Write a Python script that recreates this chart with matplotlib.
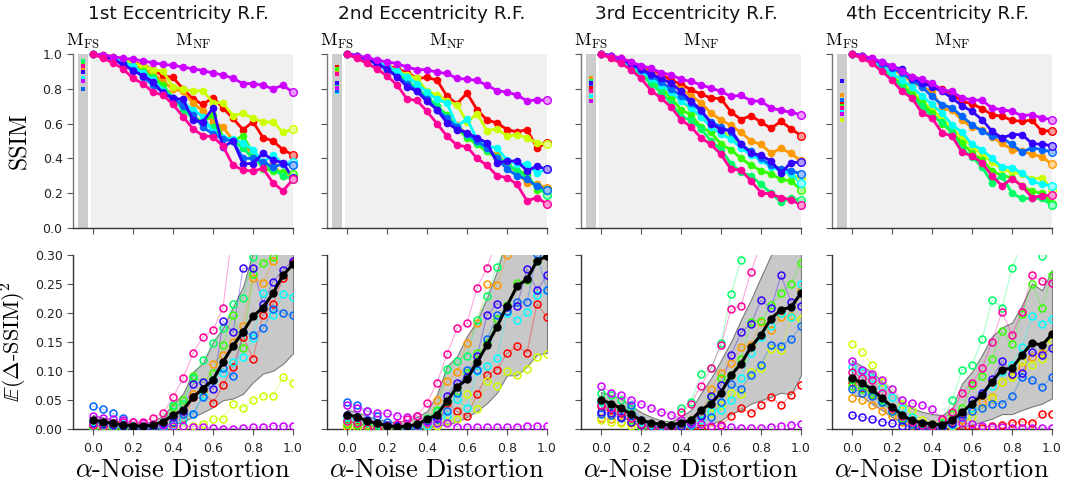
import matplotlib
matplotlib.use("Agg")
import matplotlib.pyplot as plt
from matplotlib.colors import to_rgb

plt.rcParams['mathtext.fontset'] = 'cm'
plt.rcParams['font.family'] = 'DejaVu Sans'

# ---------------- data ----------------
noise = [0.0, 0.05, 0.1, 0.15, 0.2, 0.25, 0.3, 0.35, 0.4, 0.45, 0.5,
         0.55, 0.6, 0.65, 0.7, 0.75, 0.8, 0.85, 0.9, 0.95, 1.0]
titles = ["1st Eccentricity R.F.", "2nd Eccentricity R.F.",
          "3rd Eccentricity R.F.", "4th Eccentricity R.F."]
series_names = ["red", "orange", "yellow", "lime", "spring", "cyan",
                "blue", "violet", "purple", "pink"]
series_colors = ['#ff0000', '#ff9900', '#ccff00', '#33ff00', '#00ff66',
                 '#00ffff', '#0066ff', '#3300ff', '#cc00ff', '#ff0099']
top_yticks = [0.0, 0.2, 0.4, 0.6, 0.8, 1.0]
bot_yticks = [0.0, 0.05, 0.1, 0.15, 0.2, 0.25, 0.3]
xticks = [0.0, 0.2, 0.4, 0.6, 0.8, 1.0]

# M_FS (full-scale model) SSIM per series, per panel
fs1 = [0.915, 0.91, 0.855, 0.955, 0.96, 0.86, 0.80, 0.895, 0.845, 0.93]
fs2 = [0.924, 0.90, 0.82, 0.913, 0.82, 0.78, 0.785, 0.836, 0.804, 0.884]
fs3 = [0.802, 0.861, 0.75, 0.847, 0.845, 0.756, 0.83, 0.833, 0.731, 0.789]
fs4 = [0.713, 0.767, 0.619, 0.70, 0.68, 0.673, 0.733, 0.846, 0.656, 0.687]

# ---- SSIM (top row), panel 1 ----
s1_red = [1.0, 0.995, 0.985, 0.97, 0.955, 0.935, 0.91, 0.875, 0.865, 0.80, 0.74, 0.71, 0.75, 0.69, 0.63, 0.565, 0.61, 0.52, 0.50, 0.45, 0.42]
s1_orange = [1.0, 0.99, 0.975, 0.96, 0.94, 0.91, 0.89, 0.84, 0.80, 0.785, 0.72, 0.67, 0.61, 0.58, 0.505, 0.49, 0.42, 0.37, 0.36, 0.30, 0.29]
s1_yellow = [1.0, 0.995, 0.98, 0.965, 0.95, 0.93, 0.91, 0.90, 0.81, 0.80, 0.785, 0.79, 0.72, 0.72, 0.645, 0.66, 0.63, 0.61, 0.61, 0.55, 0.57]
s1_lime = [1.0, 0.99, 0.975, 0.955, 0.93, 0.90, 0.87, 0.82, 0.75, 0.70, 0.64, 0.61, 0.65, 0.52, 0.50, 0.53, 0.43, 0.34, 0.33, 0.32, 0.31]
s1_spring = [1.0, 0.99, 0.97, 0.95, 0.92, 0.89, 0.86, 0.80, 0.74, 0.68, 0.63, 0.60, 0.58, 0.52, 0.50, 0.46, 0.40, 0.36, 0.34, 0.30, 0.28]
s1_cyan = [1.0, 0.99, 0.975, 0.955, 0.93, 0.89, 0.85, 0.79, 0.75, 0.72, 0.68, 0.64, 0.55, 0.52, 0.51, 0.49, 0.45, 0.38, 0.42, 0.37, 0.38]
s1_blue = [1.0, 0.99, 0.97, 0.94, 0.91, 0.87, 0.82, 0.78, 0.75, 0.70, 0.65, 0.58, 0.54, 0.51, 0.50, 0.40, 0.40, 0.38, 0.35, 0.37, 0.36]
s1_violet = [1.0, 0.99, 0.97, 0.94, 0.905, 0.875, 0.84, 0.775, 0.745, 0.74, 0.62, 0.61, 0.69, 0.465, 0.50, 0.37, 0.37, 0.43, 0.39, 0.375, 0.285]
s1_purple = [1.0, 0.995, 0.985, 0.975, 0.97, 0.96, 0.95, 0.94, 0.935, 0.925, 0.915, 0.905, 0.89, 0.88, 0.86, 0.83, 0.83, 0.82, 0.80, 0.82, 0.78]
s1_pink = [1.0, 0.975, 0.95, 0.915, 0.86, 0.83, 0.78, 0.765, 0.71, 0.64, 0.57, 0.53, 0.525, 0.47, 0.36, 0.333, 0.327, 0.342, 0.26, 0.213, 0.28]

# ---- SSIM panel 2 ----
s2_red = [1.0, 0.99, 0.975, 0.955, 0.935, 0.915, 0.893, 0.86, 0.865, 0.85, 0.756, 0.714, 0.775, 0.68, 0.62, 0.604, 0.566, 0.552, 0.566, 0.46, 0.49]
s2_orange = [1.0, 0.99, 0.97, 0.945, 0.92, 0.88, 0.84, 0.80, 0.75, 0.70, 0.64, 0.59, 0.54, 0.49, 0.45, 0.42, 0.37, 0.32, 0.26, 0.25, 0.23]
s2_yellow = [1.0, 0.99, 0.975, 0.955, 0.93, 0.905, 0.88, 0.86, 0.785, 0.766, 0.728, 0.709, 0.608, 0.657, 0.56, 0.57, 0.528, 0.537, 0.518, 0.49, 0.48]
s2_lime = [1.0, 0.99, 0.97, 0.945, 0.915, 0.88, 0.84, 0.80, 0.75, 0.70, 0.65, 0.57, 0.52, 0.48, 0.44, 0.40, 0.36, 0.33, 0.31, 0.22, 0.22]
s2_spring = [1.0, 0.99, 0.975, 0.95, 0.92, 0.885, 0.845, 0.80, 0.755, 0.70, 0.64, 0.58, 0.53, 0.49, 0.45, 0.41, 0.37, 0.33, 0.29, 0.24, 0.19]
s2_cyan = [1.0, 0.99, 0.975, 0.955, 0.93, 0.90, 0.87, 0.83, 0.78, 0.74, 0.718, 0.585, 0.627, 0.51, 0.47, 0.46, 0.39, 0.37, 0.366, 0.318, 0.337]
s2_blue = [1.0, 0.99, 0.97, 0.94, 0.91, 0.87, 0.83, 0.79, 0.74, 0.68, 0.63, 0.58, 0.54, 0.50, 0.46, 0.40, 0.34, 0.30, 0.28, 0.24, 0.22]
s2_violet = [1.0, 0.99, 0.97, 0.945, 0.915, 0.87, 0.813, 0.785, 0.728, 0.68, 0.604, 0.566, 0.547, 0.518, 0.49, 0.375, 0.385, 0.385, 0.328, 0.356, 0.337]
s2_purple = [1.0, 0.99, 0.98, 0.965, 0.955, 0.945, 0.925, 0.91, 0.91, 0.895, 0.888, 0.86, 0.855, 0.848, 0.82, 0.79, 0.78, 0.765, 0.73, 0.737, 0.733]
s2_pink = [1.0, 0.975, 0.947, 0.914, 0.874, 0.823, 0.741, 0.733, 0.67, 0.60, 0.528, 0.476, 0.467, 0.40, 0.36, 0.30, 0.29, 0.251, 0.156, 0.175, 0.137]

# ---- SSIM panel 3 ----
s3_red = [1.0, 0.99, 0.975, 0.955, 0.925, 0.91, 0.884, 0.85, 0.827, 0.794, 0.77, 0.747, 0.743, 0.667, 0.623, 0.646, 0.608, 0.573, 0.613, 0.57, 0.531]
s3_orange = [1.0, 0.99, 0.975, 0.95, 0.92, 0.89, 0.86, 0.83, 0.80, 0.76, 0.72, 0.66, 0.62, 0.59, 0.55, 0.50, 0.48, 0.43, 0.457, 0.429, 0.385]
s3_yellow = [1.0, 0.99, 0.965, 0.935, 0.90, 0.86, 0.82, 0.77, 0.73, 0.68, 0.64, 0.60, 0.56, 0.52, 0.48, 0.44, 0.40, 0.36, 0.34, 0.30, 0.29]
s3_lime = [1.0, 0.99, 0.965, 0.93, 0.89, 0.85, 0.80, 0.75, 0.68, 0.65, 0.58, 0.55, 0.48, 0.45, 0.40, 0.36, 0.33, 0.31, 0.28, 0.27, 0.22]
s3_spring = [1.0, 0.985, 0.96, 0.925, 0.88, 0.83, 0.78, 0.72, 0.64, 0.62, 0.57, 0.50, 0.45, 0.37, 0.32, 0.30, 0.25, 0.20, 0.15, 0.17, 0.16]
s3_cyan = [1.0, 0.99, 0.965, 0.935, 0.90, 0.86, 0.82, 0.78, 0.73, 0.69, 0.64, 0.58, 0.54, 0.51, 0.46, 0.42, 0.39, 0.35, 0.33, 0.31, 0.26]
s3_blue = [1.0, 0.99, 0.97, 0.94, 0.91, 0.875, 0.84, 0.80, 0.76, 0.72, 0.67, 0.61, 0.58, 0.55, 0.48, 0.44, 0.40, 0.36, 0.34, 0.33, 0.31]
s3_violet = [1.0, 0.99, 0.97, 0.945, 0.915, 0.885, 0.86, 0.832, 0.785, 0.728, 0.68, 0.60, 0.566, 0.562, 0.48, 0.432, 0.417, 0.385, 0.318, 0.375, 0.379]
s3_purple = [1.0, 0.99, 0.975, 0.955, 0.933, 0.918, 0.893, 0.88, 0.855, 0.842, 0.823, 0.804, 0.785, 0.756, 0.762, 0.731, 0.728, 0.69, 0.676, 0.665, 0.651]
s3_pink = [1.0, 0.975, 0.947, 0.909, 0.861, 0.79, 0.747, 0.695, 0.623, 0.581, 0.518, 0.48, 0.423, 0.337, 0.333, 0.27, 0.204, 0.194, 0.175, 0.162, 0.133]

# ---- SSIM panel 4 ----
s4_red = [1.0, 0.99, 0.975, 0.95, 0.925, 0.895, 0.87, 0.842, 0.823, 0.798, 0.771, 0.728, 0.714, 0.686, 0.651, 0.642, 0.619, 0.613, 0.619, 0.556, 0.56]
s4_orange = [1.0, 0.99, 0.97, 0.945, 0.915, 0.88, 0.84, 0.81, 0.785, 0.684, 0.68, 0.619, 0.579, 0.566, 0.524, 0.486, 0.451, 0.442, 0.423, 0.41, 0.366]
s4_yellow = [1.0, 0.99, 0.96, 0.925, 0.88, 0.84, 0.79, 0.73, 0.68, 0.63, 0.57, 0.52, 0.47, 0.42, 0.38, 0.34, 0.32, 0.31, 0.28, 0.29, 0.22]
s4_lime = [1.0, 0.99, 0.955, 0.915, 0.87, 0.82, 0.77, 0.72, 0.66, 0.60, 0.55, 0.49, 0.43, 0.39, 0.33, 0.30, 0.29, 0.24, 0.21, 0.20, 0.14]
s4_spring = [1.0, 0.985, 0.955, 0.91, 0.865, 0.81, 0.75, 0.70, 0.64, 0.61, 0.55, 0.45, 0.41, 0.35, 0.26, 0.30, 0.20, 0.17, 0.17, 0.17, 0.13]
s4_cyan = [1.0, 0.99, 0.965, 0.93, 0.89, 0.85, 0.81, 0.76, 0.71, 0.66, 0.594, 0.55, 0.48, 0.45, 0.40, 0.35, 0.347, 0.314, 0.27, 0.251, 0.242]
s4_blue = [1.0, 0.99, 0.97, 0.945, 0.92, 0.89, 0.85, 0.81, 0.756, 0.709, 0.69, 0.642, 0.594, 0.556, 0.528, 0.518, 0.48, 0.436, 0.461, 0.451, 0.436]
s4_violet = [1.0, 0.99, 0.97, 0.952, 0.928, 0.912, 0.861, 0.832, 0.813, 0.785, 0.747, 0.703, 0.67, 0.623, 0.556, 0.518, 0.537, 0.537, 0.486, 0.48, 0.474]
s4_purple = [1.0, 0.99, 0.975, 0.955, 0.93, 0.90, 0.87, 0.855, 0.832, 0.794, 0.785, 0.747, 0.737, 0.733, 0.69, 0.68, 0.67, 0.646, 0.651, 0.632, 0.623]
s4_pink = [1.0, 0.975, 0.947, 0.90, 0.85, 0.785, 0.747, 0.661, 0.632, 0.547, 0.528, 0.436, 0.413, 0.375, 0.30, 0.242, 0.284, 0.242, 0.175, 0.185, 0.189]

# ---- E(dSSIM)^2 (bottom row), panel 1 ----
d1_red = [0.005, 0.003, 0.002, 0.001, 0.001, 0.001, 0.002, 0.004, 0.010, 0.017, 0.055, 0.066, 0.044, 0.075, 0.107, 0.159, 0.121, 0.196, 0.215, 0.260, 0.288]
d1_orange = [0.008, 0.006, 0.004, 0.002, 0.001, 0.001, 0.002, 0.005, 0.020, 0.025, 0.060, 0.065, 0.112, 0.127, 0.150, 0.177, 0.260, 0.252, 0.290, 0.31, 0.32]
d1_yellow = [0.001, 0.001, 0.0, 0.0, 0.0, 0.0, 0.001, 0.001, 0.002, 0.003, 0.005, 0.008, 0.017, 0.017, 0.042, 0.036, 0.049, 0.056, 0.057, 0.089, 0.079]
d1_lime = [0.003, 0.002, 0.002, 0.001, 0.001, 0.002, 0.004, 0.010, 0.037, 0.050, 0.090, 0.080, 0.096, 0.145, 0.196, 0.140, 0.268, 0.287, 0.297, 0.32, 0.34]
d1_spring = [0.005, 0.004, 0.003, 0.003, 0.002, 0.001, 0.003, 0.006, 0.040, 0.042, 0.088, 0.119, 0.147, 0.174, 0.215, 0.225, 0.296, 0.33, 0.35, 0.38, 0.40]
d1_cyan = [0.012, 0.010, 0.007, 0.008, 0.004, 0.003, 0.004, 0.002, 0.006, 0.014, 0.025, 0.058, 0.084, 0.096, 0.115, 0.124, 0.157, 0.235, 0.196, 0.233, 0.228]
d1_blue = [0.039, 0.033, 0.026, 0.018, 0.0, 0.001, 0.003, 0.0, 0.012, 0.025, 0.025, 0.055, 0.084, 0.104, 0.090, 0.167, 0.162, 0.173, 0.206, 0.200, 0.196]
d1_violet = [0.010, 0.008, 0.006, 0.004, 0.002, 0.002, 0.003, 0.008, 0.020, 0.030, 0.077, 0.081, 0.068, 0.186, 0.166, 0.277, 0.277, 0.216, 0.254, 0.274, 0.290]
d1_purple = [0.022, 0.018, 0.016, 0.014, 0.012, 0.010, 0.008, 0.006, 0.005, 0.004, 0.003, 0.003, 0.001, 0.0, 0.0, 0.001, 0.002, 0.002, 0.005, 0.004, 0.005]
d1_pink = [0.006, 0.003, 0.010, 0.0115, 0.0115, 0.011, 0.019, 0.026, 0.054, 0.087, 0.130, 0.159, 0.170, 0.209, 0.35, 0.40, 0.45, 0.50, 0.53, 0.56, 0.60]
d1_mean = [0.014, 0.012, 0.009, 0.006, 0.005, 0.004, 0.006, 0.012, 0.023, 0.032, 0.054, 0.069, 0.084, 0.115, 0.143, 0.167, 0.194, 0.209, 0.234, 0.265, 0.284]
d1_low = [0.006, 0.005, 0.003, 0.001, 0.0, 0.0, 0.0, 0.002, 0.006, 0.012, 0.020, 0.028, 0.037, 0.049, 0.052, 0.060, 0.080, 0.095, 0.100, 0.112, 0.130]
d1_high = [0.023, 0.019, 0.015, 0.011, 0.010, 0.009, 0.013, 0.022, 0.042, 0.060, 0.098, 0.113, 0.150, 0.173, 0.210, 0.245, 0.305, 0.330, 0.360, 0.380, 0.400]

# ---- panel 2 ----
d2_red = [0.005, 0.003, 0.001, 0.0, 0.0, 0.0, 0.0, 0.0, 0.002, 0.005, 0.044, 0.030, 0.022, 0.059, 0.092, 0.102, 0.130, 0.142, 0.131, 0.216, 0.192]
d2_orange = [0.010, 0.008, 0.006, 0.003, 0.002, 0.001, 0.001, 0.004, 0.010, 0.050, 0.082, 0.097, 0.148, 0.182, 0.249, 0.248, 0.30, 0.33, 0.35, 0.37, 0.40]
d2_yellow = [0.002, 0.001, 0.001, 0.0, 0.0, 0.0, 0.0, 0.001, 0.003, 0.005, 0.013, 0.016, 0.059, 0.034, 0.082, 0.073, 0.100, 0.092, 0.103, 0.123, 0.128]
d2_lime = [0.008, 0.006, 0.005, 0.003, 0.002, 0.001, 0.002, 0.006, 0.012, 0.032, 0.047, 0.065, 0.096, 0.130, 0.147, 0.190, 0.213, 0.252, 0.257, 0.290, 0.310]
d2_spring = [0.015, 0.012, 0.010, 0.006, 0.003, 0.002, 0.003, 0.008, 0.018, 0.030, 0.103, 0.117, 0.126, 0.187, 0.229, 0.280, 0.32, 0.35, 0.38, 0.40, 0.42]
d2_cyan = [0.020, 0.018, 0.014, 0.010, 0.005, 0.002, 0.001, 0.0, 0.004, 0.010, 0.022, 0.051, 0.036, 0.099, 0.108, 0.122, 0.199, 0.188, 0.201, 0.230, 0.239]
d2_blue = [0.046, 0.040, 0.031, 0.022, 0.011, 0.006, 0.001, 0.001, 0.012, 0.016, 0.030, 0.061, 0.102, 0.102, 0.154, 0.196, 0.203, 0.219, 0.218, 0.301, 0.239]
d2_violet = [0.024, 0.020, 0.015, 0.010, 0.006, 0.004, 0.005, 0.006, 0.013, 0.018, 0.057, 0.079, 0.089, 0.125, 0.196, 0.216, 0.210, 0.212, 0.276, 0.239, 0.265]
d2_purple = [0.040, 0.035, 0.030, 0.027, 0.026, 0.022, 0.020, 0.022, 0.011, 0.010, 0.009, 0.003, 0.003, 0.002, 0.002, 0.002, 0.002, 0.003, 0.005, 0.004, 0.004]
d2_pink = [0.013, 0.010, 0.001, 0.001, 0.004, 0.008, 0.016, 0.022, 0.044, 0.079, 0.128, 0.173, 0.182, 0.243, 0.278, 0.33, 0.38, 0.42, 0.45, 0.48, 0.50]
d2_mean = [0.024, 0.020, 0.013, 0.009, 0.005, 0.003, 0.004, 0.007, 0.016, 0.024, 0.047, 0.072, 0.085, 0.115, 0.144, 0.176, 0.212, 0.246, 0.258, 0.290, 0.298]
d2_low = [0.012, 0.010, 0.006, 0.003, 0.001, 0.0, 0.0, 0.0, 0.002, 0.004, 0.007, 0.012, 0.020, 0.030, 0.044, 0.062, 0.092, 0.092, 0.108, 0.128, 0.131]
d2_high = [0.033, 0.028, 0.022, 0.016, 0.012, 0.011, 0.014, 0.020, 0.030, 0.059, 0.108, 0.125, 0.160, 0.186, 0.226, 0.272, 0.330, 0.370, 0.400, 0.420, 0.450]

# ---- panel 3 ----
d3_red = [0.039, 0.032, 0.026, 0.020, 0.010, 0.003, 0.001, 0.0, 0.0, 0.0, 0.001, 0.003, 0.006, 0.021, 0.035, 0.026, 0.040, 0.054, 0.040, 0.058, 0.075]
d3_orange = [0.019, 0.016, 0.012, 0.010, 0.004, 0.002, 0.001, 0.001, 0.003, 0.008, 0.020, 0.069, 0.096, 0.113, 0.141, 0.144, 0.185, 0.170, 0.193, 0.195, 0.239]
d3_yellow = [0.015, 0.012, 0.009, 0.005, 0.002, 0.001, 0.001, 0.001, 0.003, 0.010, 0.022, 0.026, 0.040, 0.062, 0.060, 0.098, 0.104, 0.138, 0.136, 0.193, 0.190]
d3_lime = [0.047, 0.040, 0.030, 0.015, 0.003, 0.001, 0.001, 0.002, 0.005, 0.015, 0.025, 0.055, 0.087, 0.092, 0.120, 0.185, 0.186, 0.213, 0.234, 0.250, 0.287]
d3_spring = [0.061, 0.058, 0.050, 0.035, 0.010, 0.003, 0.002, 0.001, 0.036, 0.046, 0.094, 0.104, 0.147, 0.232, 0.292, 0.34, 0.38, 0.42, 0.45, 0.48, 0.50]
d3_cyan = [0.045, 0.040, 0.032, 0.022, 0.012, 0.006, 0.004, 0.002, 0.003, 0.006, 0.015, 0.030, 0.032, 0.050, 0.088, 0.130, 0.159, 0.177, 0.200, 0.193, 0.250]
d3_blue = [0.025, 0.024, 0.018, 0.040, 0.015, 0.005, 0.002, 0.001, 0.003, 0.008, 0.023, 0.020, 0.046, 0.077, 0.069, 0.092, 0.110, 0.145, 0.143, 0.154, 0.177]
d3_violet = [0.028, 0.026, 0.020, 0.012, 0.006, 0.003, 0.002, 0.001, 0.004, 0.012, 0.022, 0.056, 0.075, 0.127, 0.166, 0.181, 0.222, 0.208, 0.265, 0.219, 0.212]
d3_purple = [0.073, 0.062, 0.058, 0.050, 0.042, 0.035, 0.029, 0.024, 0.015, 0.010, 0.008, 0.005, 0.004, 0.002, 0.001, 0.001, 0.001, 0.003, 0.004, 0.006, 0.0075]
d3_pink = [0.040, 0.035, 0.028, 0.018, 0.008, 0.003, 0.001, 0.003, 0.029, 0.043, 0.074, 0.104, 0.144, 0.206, 0.212, 0.271, 0.32, 0.36, 0.40, 0.43, 0.46]
d3_mean = [0.050, 0.043, 0.035, 0.025, 0.014, 0.010, 0.007, 0.006, 0.010, 0.014, 0.032, 0.043, 0.062, 0.092, 0.112, 0.141, 0.162, 0.190, 0.205, 0.210, 0.234]
d3_low = [0.035, 0.030, 0.022, 0.012, 0.004, 0.001, 0.0, 0.0, 0.0, 0.0, 0.005, 0.008, 0.014, 0.026, 0.032, 0.043, 0.049, 0.055, 0.062, 0.059, 0.092]
d3_high = [0.063, 0.058, 0.052, 0.040, 0.028, 0.020, 0.014, 0.012, 0.020, 0.032, 0.061, 0.087, 0.118, 0.150, 0.188, 0.223, 0.262, 0.300, 0.330, 0.360, 0.380]

# ---- panel 4 ----
d4_red = [0.081, 0.070, 0.060, 0.045, 0.032, 0.018, 0.008, 0.003, 0.001, 0.0, 0.0, 0.0, 0.0, 0.001, 0.004, 0.006, 0.010, 0.0115, 0.010, 0.025, 0.025]
d4_orange = [0.052, 0.049, 0.040, 0.031, 0.022, 0.012, 0.006, 0.003, 0.002, 0.001, 0.005, 0.015, 0.030, 0.045, 0.055, 0.081, 0.092, 0.107, 0.123, 0.131, 0.163]
d4_yellow = [0.146, 0.132, 0.110, 0.081, 0.069, 0.043, 0.032, 0.015, 0.008, 0.012, 0.005, 0.010, 0.020, 0.035, 0.052, 0.081, 0.089, 0.117, 0.110, 0.121, 0.152]
d4_lime = [0.073, 0.068, 0.060, 0.045, 0.030, 0.018, 0.010, 0.004, 0.003, 0.006, 0.025, 0.035, 0.075, 0.090, 0.121, 0.169, 0.146, 0.198, 0.250, 0.209, 0.265]
d4_spring = [0.085, 0.075, 0.065, 0.050, 0.030, 0.015, 0.008, 0.004, 0.003, 0.010, 0.049, 0.101, 0.110, 0.154, 0.222, 0.209, 0.277, 0.32, 0.33, 0.298, 0.34]
d4_cyan = [0.107, 0.098, 0.087, 0.072, 0.054, 0.035, 0.020, 0.008, 0.004, 0.002, 0.006, 0.020, 0.035, 0.062, 0.073, 0.098, 0.110, 0.141, 0.194, 0.180, 0.189]
d4_blue = [0.069, 0.062, 0.056, 0.045, 0.030, 0.015, 0.008, 0.004, 0.002, 0.002, 0.008, 0.020, 0.030, 0.035, 0.043, 0.043, 0.056, 0.089, 0.083, 0.072, 0.089]
d4_violet = [0.023, 0.020, 0.016, 0.012, 0.009, 0.005, 0.002, 0.001, 0.001, 0.002, 0.010, 0.025, 0.050, 0.062, 0.085, 0.117, 0.095, 0.096, 0.133, 0.127, 0.140]
d4_purple = [0.117, 0.102, 0.095, 0.083, 0.069, 0.050, 0.044, 0.040, 0.033, 0.017, 0.014, 0.010, 0.007, 0.004, 0.003, 0.002, 0.001, 0.001, 0.001, 0.001, 0.001]
d4_pink = [0.098, 0.088, 0.084, 0.062, 0.035, 0.022, 0.012, 0.006, 0.004, 0.017, 0.029, 0.061, 0.079, 0.104, 0.150, 0.202, 0.162, 0.202, 0.265, 0.255, 0.252]
d4_mean = [0.088, 0.078, 0.068, 0.052, 0.038, 0.023, 0.014, 0.010, 0.008, 0.006, 0.014, 0.028, 0.043, 0.058, 0.081, 0.102, 0.104, 0.127, 0.148, 0.144, 0.163]
d4_low = [0.058, 0.055, 0.043, 0.032, 0.020, 0.010, 0.003, 0.0, 0.0, 0.0, 0.0, 0.002, 0.006, 0.012, 0.017, 0.025, 0.025, 0.032, 0.038, 0.043, 0.052]
d4_high = [0.118, 0.108, 0.098, 0.081, 0.063, 0.046, 0.035, 0.029, 0.025, 0.023, 0.035, 0.078, 0.098, 0.127, 0.159, 0.175, 0.183, 0.213, 0.251, 0.239, 0.274]

top_data = [
    [s1_red, s1_orange, s1_yellow, s1_lime, s1_spring, s1_cyan, s1_blue, s1_violet, s1_purple, s1_pink],
    [s2_red, s2_orange, s2_yellow, s2_lime, s2_spring, s2_cyan, s2_blue, s2_violet, s2_purple, s2_pink],
    [s3_red, s3_orange, s3_yellow, s3_lime, s3_spring, s3_cyan, s3_blue, s3_violet, s3_purple, s3_pink],
    [s4_red, s4_orange, s4_yellow, s4_lime, s4_spring, s4_cyan, s4_blue, s4_violet, s4_purple, s4_pink],
]
fs_data = [fs1, fs2, fs3, fs4]
bot_data = [
    [d1_red, d1_orange, d1_yellow, d1_lime, d1_spring, d1_cyan, d1_blue, d1_violet, d1_purple, d1_pink],
    [d2_red, d2_orange, d2_yellow, d2_lime, d2_spring, d2_cyan, d2_blue, d2_violet, d2_purple, d2_pink],
    [d3_red, d3_orange, d3_yellow, d3_lime, d3_spring, d3_cyan, d3_blue, d3_violet, d3_purple, d3_pink],
    [d4_red, d4_orange, d4_yellow, d4_lime, d4_spring, d4_cyan, d4_blue, d4_violet, d4_purple, d4_pink],
]
means = [d1_mean, d2_mean, d3_mean, d4_mean]
lows = [d1_low, d2_low, d3_low, d4_low]
highs = [d1_high, d2_high, d3_high, d4_high]

# ---------------- figure ----------------
W, H = 1065, 486
fig = plt.figure(figsize=(W / 100, H / 100), dpi=100)
lefts_px = [73, 327, 581, 832]
width_px = 220
top_y0, top_y1 = 54, 228
bot_y0, bot_y1 = 255, 428.5


def lighten(c, f=0.6):
    r, g, b = to_rgb(c)
    return (r + (1 - r) * f, g + (1 - g) * f, b + (1 - b) * f)


def style_axes(ax, show_ylabels):
    for s in ['top', 'right']:
        ax.spines[s].set_visible(False)
    for s in ['left', 'bottom']:
        ax.spines[s].set_color('#333333')
        ax.spines[s].set_linewidth(1.0)
    ax.tick_params(direction='out', length=4, width=0.8, color='#555555',
                   labelsize=9, labelcolor='#222222')
    if not show_ylabels:
        ax.tick_params(axis='y', labelleft=False)


for k in range(4):
    L = lefts_px[k]
    # ---------- top row ----------
    ax = fig.add_axes([L / W, 1 - top_y1 / H, width_px / W, (top_y1 - top_y0) / H])
    ax.set_xlim(-0.1, 1.0)
    ax.set_ylim(0, 1.0)
    ax.axvspan(-0.008, 1.0, color='#f0f0f0', lw=0, zorder=0)
    ax.axvspan(-0.075, -0.025, color='#cccccc', lw=0, zorder=0)
    for vals, col in zip(top_data[k], series_colors):
        ax.plot(noise, vals, '-o', color=col, lw=2.0, ms=5.5, mew=0,
                clip_on=False, zorder=3)
        ax.plot(noise[-1:], vals[-1:], 'o', mfc=lighten(col), mec=col,
                ms=5.5, mew=1.0, clip_on=False, zorder=4)
    for v, col in zip(fs_data[k], series_colors):
        ax.plot([-0.05], [v], 's', color=col, ms=2.8, mew=0, zorder=3)
    ax.set_xticks(xticks)
    ax.set_xticklabels([])
    ax.set_yticks(top_yticks)
    ax.set_yticklabels([f"{t:.1f}" for t in top_yticks])
    style_axes(ax, k == 0)
    ax.spines['left'].set_color('#777777')
    if k == 0:
        ax.set_ylabel('SSIM', family='cmr10', fontsize=17, labelpad=8)
    ax.text(-0.05, 1.07, r'$\mathrm{M}_{\mathrm{FS}}$', transform=ax.transData,
            ha='center', va='center', fontsize=13, clip_on=False)
    ax.text(0.5, 1.07, r'$\mathrm{M}_{\mathrm{NF}}$', transform=ax.transData,
            ha='center', va='center', fontsize=13, clip_on=False)
    fig.text((L + width_px / 2 - 5) / W, 1 - 14 / H, titles[k], ha='center',
             va='center', fontsize=13.3, color='#111111')

    # ---------- bottom row ----------
    bx = fig.add_axes([L / W, 1 - bot_y1 / H, width_px / W, (bot_y1 - bot_y0) / H])
    bx.set_xlim(-0.1, 1.0)
    bx.set_ylim(0, 0.3)
    bx.fill_between(noise, lows[k], highs[k], facecolor='#c8c8c8',
                    edgecolor='#7a7a7a', lw=0.8, zorder=1)
    for vals, col in zip(bot_data[k], series_colors):
        bx.plot(noise, vals, '-', color=col, lw=0.8, alpha=0.35, zorder=2)
        bx.plot(noise, vals, 'o', mfc='none', mec=col, ms=5, mew=1.1, zorder=3)
    bx.plot(noise, means[k], '-o', color='black', lw=2.2, ms=5, zorder=4)
    bx.set_xticks(xticks)
    bx.set_xticklabels([f"{t:.1f}" for t in xticks])
    bx.set_yticks(bot_yticks)
    bx.set_yticklabels([f"{t:.2f}" for t in bot_yticks])
    style_axes(bx, k == 0)
    bx.tick_params(axis='x', pad=6)
    bx.set_xlabel(r'$\alpha$-Noise Distortion', family='cmr10', fontsize=19,
                  labelpad=2)
    if k == 0:
        bx.set_ylabel(r'$\mathbb{E}(\Delta$-SSIM$)^2$', family='cmr10',
                      fontsize=16, labelpad=4)

fig.savefig('out.png', dpi=100)
